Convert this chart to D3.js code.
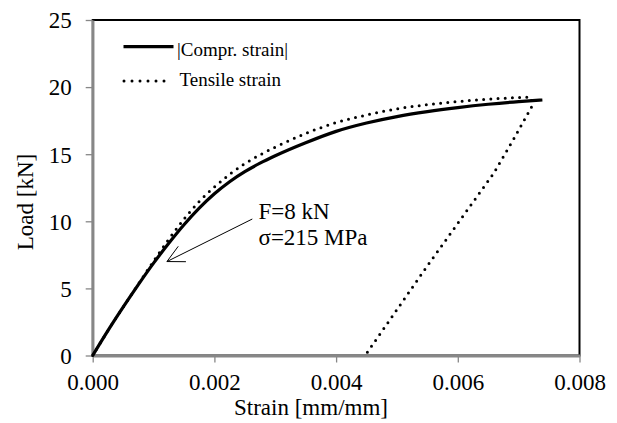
<!DOCTYPE html>
<html>
<head>
<meta charset="utf-8">
<script src="https://cdn.jsdelivr.net/npm/d3@7/dist/d3.min.js"></script>
<style>
  html, body { margin: 0; padding: 0; background: #fff; }
  svg { display: block; }
  text { font-family: "Liberation Serif", "Times New Roman", serif; fill: #000; }
</style>
</head>
<body>
<svg id="chart" width="617" height="423"></svg>
<script>
// Load–strain curves (strain in mm/mm, load in kN)
const comprStrain = [0, 0.00025, 0.0005, 0.00075, 0.001, 0.00125, 0.0015, 0.00175, 0.002, 0.00225, 0.0025, 0.00275, 0.003, 0.0035, 0.004, 0.0045, 0.005, 0.0055, 0.006, 0.0065, 0.007, 0.00739];
const comprLoad   = [0, 1.85, 3.6, 5.28, 6.88, 8.36, 9.74, 10.98, 12.05, 12.95, 13.7, 14.33, 14.88, 15.85, 16.7, 17.32, 17.8, 18.17, 18.47, 18.72, 18.92, 19.04];

const tensStrain = [0, 0.00025, 0.0005, 0.00075, 0.001, 0.00125, 0.0015, 0.00175, 0.002, 0.00225, 0.0025, 0.00275, 0.003, 0.0035, 0.004, 0.0045, 0.005, 0.0055, 0.006, 0.0065, 0.007, 0.0072];
const tensLoad   = [0, 1.85, 3.6, 5.33, 7.03, 8.66, 10.16, 11.48, 12.55, 13.5, 14.3, 14.95, 15.53, 16.55, 17.35, 17.92, 18.38, 18.69, 18.92, 19.1, 19.22, 19.24];

// unloading branch of the tensile gauge
const unloadStrain = [0.0072, 0.00723, 0.00691, 0.00659, 0.00549, 0.004477];
const unloadLoad   = [19.24, 18.67, 16.06, 13.58, 6.62, 0];

const xTicks = [0, 0.002, 0.004, 0.006, 0.008];
const yTicks = [0, 5, 10, 15, 20, 25];

const seriesNames = ["|Compr. strain|", "Tensile strain"];
const noteLines = ["F=8 kN", "σ=215 MPa"];
const noteTarget = [0.00122, 7.0];   // where the callout arrow points (strain, load)

const svg = d3.select("#chart");
const plotL = 92.7, plotR = 579.5, plotT = 20, plotB = 355.5;

const x = d3.scaleLinear().domain([0, 0.008]).range([plotL, plotR]);
const y = d3.scaleLinear().domain([0, 25]).range([plotB, plotT]);

// plot frame
svg.append("rect")
  .attr("x", plotL).attr("y", plotT)
  .attr("width", plotR - plotL).attr("height", plotB - plotT)
  .attr("fill", "none").attr("stroke", "#000").attr("stroke-width", 2);

const axisColor = "#878787";
const labelSize = "23px";

const gx = svg.append("g")
  .attr("transform", `translate(0,${plotB})`)
  .call(d3.axisBottom(x).tickValues(xTicks).tickSize(7).tickSizeOuter(0).tickFormat(d3.format(".3f")));
gx.select(".domain").attr("stroke", axisColor).attr("stroke-width", 3);
gx.selectAll(".tick line").attr("stroke", axisColor).attr("stroke-width", 1.3);
gx.selectAll(".tick text").attr("y", 34.5).attr("dy", null)
  .style("font-size", labelSize).style("font-family", "'Liberation Serif', serif");

const gy = svg.append("g")
  .attr("transform", `translate(${plotL},0)`)
  .call(d3.axisLeft(y).tickValues(yTicks).tickSize(7).tickSizeOuter(0).tickPadding(14).tickFormat(d3.format("d")));
gy.select(".domain").attr("stroke", axisColor).attr("stroke-width", 2.5);
gy.selectAll(".tick line").attr("stroke", axisColor).attr("stroke-width", 1.3);
gy.selectAll(".tick text").attr("dy", "0.34em")
  .style("font-size", labelSize).style("font-family", "'Liberation Serif', serif");

// axis titles
svg.append("text")
  .attr("x", 311).attr("y", 415)
  .attr("text-anchor", "middle").style("font-size", labelSize)
  .text("Strain [mm/mm]");
svg.append("text")
  .attr("transform", "translate(33,202) rotate(-90)")
  .attr("text-anchor", "middle").style("font-size", labelSize)
  .text("Load [kN]");

const smooth = d3.line().x(d => x(d[0])).y(d => y(d[1])).curve(d3.curveMonotoneX);
const straight = d3.line().x(d => x(d[0])).y(d => y(d[1]));

const comprPts = comprStrain.map((s, i) => [s, comprLoad[i]]);
const tensPts = tensStrain.map((s, i) => [s, tensLoad[i]]);
const unloadPts = unloadStrain.map((s, i) => [s, unloadLoad[i]]);

// tensile: loading curve followed by the unloading branch in one path
const tensPath = smooth(tensPts) + straight(unloadPts).replace(/^M/, "L");
svg.append("path")
  .attr("d", tensPath)
  .attr("fill", "none").attr("stroke", "#000")
  .attr("stroke-width", 3).attr("stroke-linecap", "round")
  .attr("stroke-dasharray", "0 7.2");

svg.append("path")
  .attr("d", smooth(comprPts))
  .attr("fill", "none").attr("stroke", "#000").attr("stroke-width", 3.2)
  .attr("stroke-linejoin", "round");

// legend
const legend = svg.append("g");
legend.append("line")
  .attr("x1", 123.5).attr("x2", 173.5).attr("y1", 46.7).attr("y2", 46.7)
  .attr("stroke", "#000").attr("stroke-width", 3.2);
legend.append("text").attr("x", 177).attr("y", 56).style("font-size", "19px").text(seriesNames[0]);
legend.append("line")
  .attr("x1", 124).attr("x2", 172).attr("y1", 81).attr("y2", 81)
  .attr("stroke", "#000").attr("stroke-width", 3).attr("stroke-linecap", "round")
  .attr("stroke-dasharray", "0 8");
legend.append("text").attr("x", 179.5).attr("y", 86).style("font-size", "19px").text(seriesNames[1]);

// callout with open arrowhead
const tipX = x(noteTarget[0]), tipY = y(noteTarget[1]);
const tailX = 252.3, tailY = 219;
svg.append("line")
  .attr("x1", tailX).attr("y1", tailY).attr("x2", tipX).attr("y2", tipY)
  .attr("stroke", "#000").attr("stroke-width", 1);
const ang = Math.atan2(tailY - tipY, tailX - tipX);
const headLen = 19, spread = 0.47;
svg.append("path")
  .attr("d", `M${tipX + headLen * Math.cos(ang - spread)},${tipY + headLen * Math.sin(ang - spread)}L${tipX},${tipY}L${tipX + headLen * Math.cos(ang + spread)},${tipY + headLen * Math.sin(ang + spread)}`)
  .attr("fill", "none").attr("stroke", "#000").attr("stroke-width", 1);

svg.append("text").attr("x", 258.5).attr("y", 219.3).style("font-size", labelSize).text(noteLines[0]);
svg.append("text").attr("x", 258.5).attr("y", 245).style("font-size", labelSize).text(noteLines[1]);
</script>
</body>
</html>
